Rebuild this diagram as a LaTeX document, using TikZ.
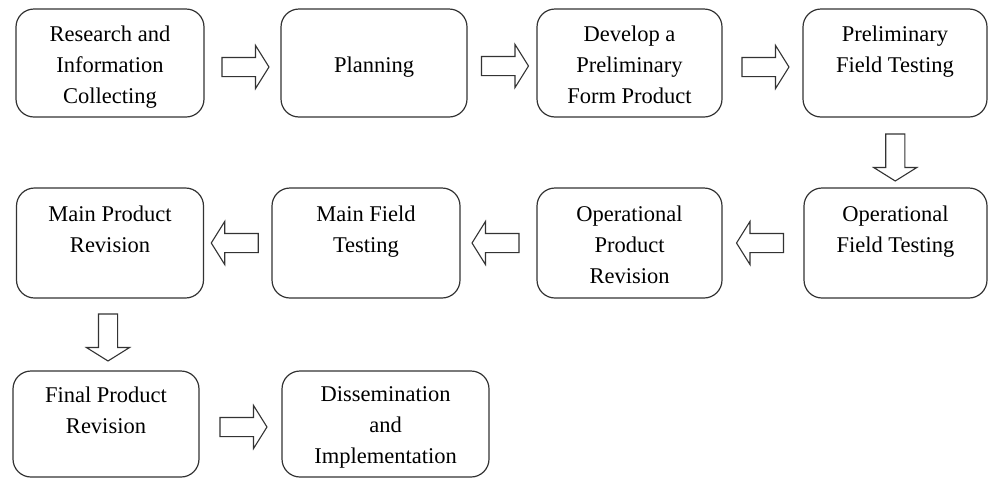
\documentclass[tikz,border=0pt]{standalone}
\usepackage{fontspec}
\setmainfont{LiberationSerif}[Extension=.ttf,UprightFont=*-Regular,BoldFont=*-Bold]
\usetikzlibrary{shapes.arrows,calc}

\newcommand{\stagetext}[1]{\parbox[c][74pt][t]{180pt}{\centering #1}}

\begin{document}
\begin{tikzpicture}[x=1pt,y=-1pt,font=\fontsize{22.5}{31}\selectfont,
  stage/.style={draw=black!80,line width=1.2pt,rounded corners=18pt,inner sep=0pt},
  blk/.style={single arrow,draw=black!80,line width=1.1pt,fill=white,
    inner xsep=0pt,inner ysep=9pt,minimum height=47pt,single arrow head extend=12pt,
    single arrow tip angle=116,single arrow head indent=0pt}]

\useasboundingbox (0,0) rectangle (988,480);

% first row
\node[stage,minimum width=188pt,minimum height=108pt] (res)  at (110,63)
  {\stagetext{Research and\\Information\\Collecting}};
\node[stage,minimum width=186pt,minimum height=108pt] (plan) at (374,63)
  {\stagetext{\rule{0pt}{15pt}\\Planning}};
\node[stage,minimum width=185pt,minimum height=108pt] (dev)  at (629.5,63)
  {\stagetext{Develop a\\Preliminary\\Form Product}};
\node[stage,minimum width=184pt,minimum height=108pt] (pft)  at (895,63)
  {\stagetext{Preliminary\\Field Testing}};

% second row
\node[stage,minimum width=183pt,minimum height=110pt] (oft) at (895.5,243)
  {\stagetext{Operational\\Field Testing}};
\node[stage,minimum width=185pt,minimum height=110pt] (opr) at (629.5,243)
  {\stagetext{Operational\\Product\\Revision}};
\node[stage,minimum width=188pt,minimum height=110pt] (mft) at (366,243)
  {\stagetext{Main Field\\Testing}};
\node[stage,minimum width=187pt,minimum height=110pt] (mpr) at (110,243)
  {\stagetext{Main Product\\Revision}};

% third row
\node[stage,minimum width=186pt,minimum height=106pt] (fpr) at (106,424)
  {\stagetext{Final Product\\Revision}};
\node[stage,minimum width=207pt,minimum height=106pt] (dis) at (385.5,424)
  {\stagetext{Dissemination\\and\\Implementation}};

% block arrows
\node[blk,yshift=-4pt] (a1) at ($(res.east)!.5!(plan.west)$) {};
\node[blk,yshift=-3pt] (a2) at ($(plan.east)!.5!(dev.west)$) {};
\node[blk,yshift=-4pt] (a3) at ($(dev.east)!.5!(pft.west)$) {};
\node[blk,rotate=-90,xshift=2pt] (a4) at ($(pft.south)!.5!(oft.north)$) {};
\node[blk,rotate=180] (a5) at ($(oft.west)!.5!(opr.east)$) {};
\node[blk,rotate=180] (a6) at ($(opr.west)!.5!(mft.east)$) {};
\node[blk,rotate=180] (a7) at ($(mft.west)!.5!(mpr.east)$) {};
\node[blk,rotate=-90] (a8) at ($(mpr.south)!.5!(fpr.north)$) {};
\node[blk,yshift=-3pt] (a9) at ($(fpr.east)!.5!(dis.west)$) {};

\end{tikzpicture}
\end{document}
